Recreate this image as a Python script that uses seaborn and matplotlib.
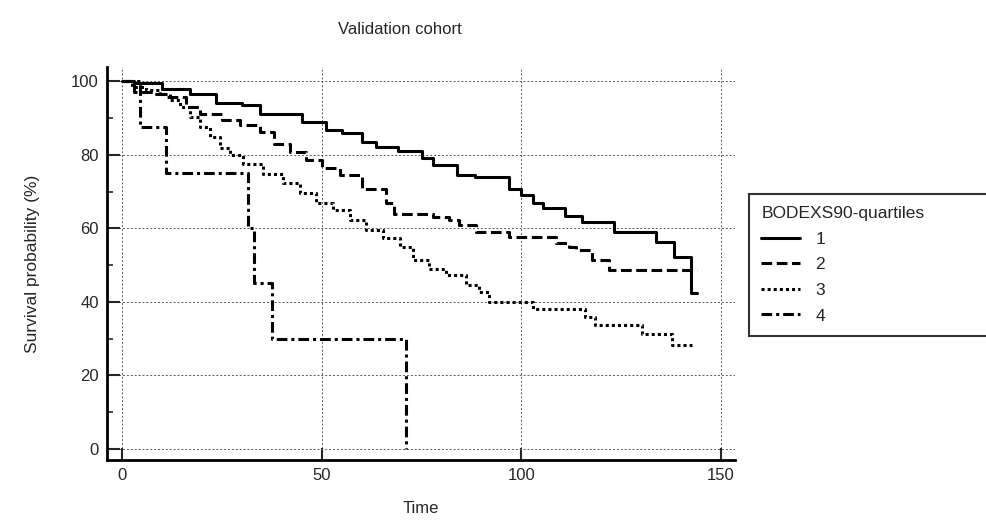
import matplotlib
matplotlib.use("Agg")
import matplotlib.pyplot as plt
import seaborn as sns
from matplotlib.ticker import MultipleLocator

sns.set_style("white")
plt.rcParams['font.family'] = ['Liberation Sans', 'DejaVu Sans']

# Kaplan-Meier step values (time, survival %)
t_q1 = [0, 3, 10, 17, 23.5, 30, 34.5, 45, 51, 55, 60, 63.5, 69, 75, 78, 84, 88.5,
        97, 100, 102.8, 105.3, 111, 115.3, 123.3, 133.7, 138.3, 142.4, 144]
s_q1 = [100, 99.5, 98, 96.6, 94.2, 93.5, 91.2, 89, 86.7, 85.8, 83.5, 82, 81, 79, 77.2, 74.5, 74,
        70.8, 69, 66.8, 65.4, 63.3, 61.8, 59, 56.3, 52.3, 42.3, 42.3]

t_q2 = [0, 3, 8, 11, 16, 19.5, 25, 29.5, 34.5, 38, 42, 46, 50, 54.5, 60, 66, 68,
        77.8, 82, 84.5, 88.7, 97, 108.7, 112, 113.7, 117.8, 122, 144]
s_q2 = [100, 97.1, 96.5, 95.7, 93, 91.2, 89.4, 88, 86.2, 83, 80.8, 78.5, 76.3, 74.5, 70.8, 66.8, 64,
        63.1, 62.2, 60.9, 59, 57.7, 56.1, 55, 54.1, 51.4, 48.6, 48.6]

t_q3 = [0, 2.5, 6, 9.5, 12, 14.5, 17, 19.5, 22, 24.5, 27, 30.3, 35.3, 40.3, 44.5, 48.7,
        52.8, 57, 61.2, 65.3, 69.5, 72.8, 77, 81.2, 86.2, 89.5, 92, 102.8, 116, 118.5,
        130.3, 137.8, 142.8]
s_q3 = [100, 98.5, 97.5, 96.6, 94.8, 93, 90.3, 87.6, 84.9, 81.7, 79.9, 77.6, 74.9, 72.2, 69.5, 66.8,
        64.9, 62.2, 59.5, 57.3, 55, 51.5, 49, 47.3, 44.6, 42.7, 40, 38, 36, 33.7,
        31.4, 28.3, 28.3]

t_q4 = [0, 4.5, 11, 31.5, 33, 37.5, 71]
s_q4 = [100, 87.5, 75, 60, 45, 30, 0]

groups = ['1', '2', '3', '4']
times = [t_q1, t_q2, t_q3, t_q4]
survs = [s_q1, s_q2, s_q3, s_q4]
styles = ['-', (0, (3.5, 1.5)), (0, (1, 1)), (0, (3.5, 1.3, 1, 1.3))]

fig = plt.figure(figsize=(9.87, 5.21), dpi=100)
ax = fig.add_axes([0.1084, 0.117, 0.6363, 0.754])

for g, t, s, ls in zip(groups, times, survs, styles):
    sns.lineplot(x=t, y=s, drawstyle='steps-post', color='black', linestyle=ls,
                 lw=2.2, label=g, ax=ax, sort=False, estimator=None)

ax.set_xlim(-3.75, 153.5)
ax.set_ylim(-3, 103.8)
ax.set_xticks([0, 50, 100, 150])
ax.set_yticks([0, 20, 40, 60, 80, 100])
ax.yaxis.set_minor_locator(MultipleLocator(10))
ax.grid(True, which='major', color='0.35', linestyle=(0, (2, 2)), lw=0.7)
ax.tick_params(which='major', direction='in', length=9, width=1.5, labelsize=12, pad=6)
ax.tick_params(which='minor', direction='in', length=4, width=1.2)
ax.tick_params(axis='x', bottom=True)
ax.tick_params(axis='y', left=True)
ax.tick_params(axis='y', which='minor', left=True)
for side in ['top', 'right']:
    ax.spines[side].set_visible(False)
for side in ['left', 'bottom']:
    ax.spines[side].set_color('black')
    ax.spines[side].set_linewidth(2)

ax.set_xlabel('Time', fontsize=12, labelpad=13)
ax.set_ylabel('Survival probability (%)', fontsize=12.5, labelpad=22)
fig.text(400 / 987, 1 - 29 / 521, 'Validation cohort', fontsize=12, ha='center', va='center')

leg = ax.legend(title='BODEXS90-quartiles', loc='upper left',
                bbox_to_anchor=(749 / 987, 1 - 199 / 521, 260 / 987, 0.01),
                bbox_transform=fig.transFigure, mode='expand',
                fontsize=12.5, title_fontsize=12.5, frameon=True, fancybox=False,
                handlelength=2.2, handletextpad=0.9, labelspacing=0.6,
                borderpad=0.72, borderaxespad=0)
leg._legend_box.align = 'left'
leg.get_frame().set_edgecolor('black')
leg.get_frame().set_linewidth(1.5)

fig.savefig('out.png', dpi=100)
